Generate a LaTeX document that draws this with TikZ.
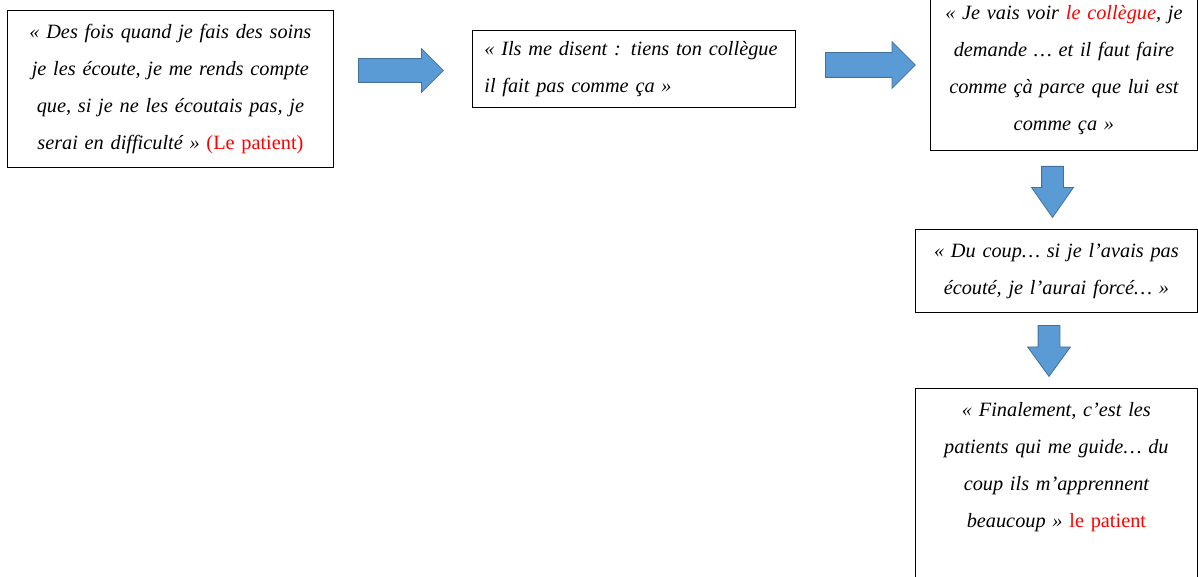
\documentclass[tikz,border=0pt]{standalone}
\usepackage{fontspec}
\setmainfont{Liberation Serif}
\usetikzlibrary{shapes.arrows}

\definecolor{arrowfill}{RGB}{91,155,213}
\definecolor{arrowline}{RGB}{65,113,156}
\definecolor{speaker}{RGB}{255,0,0}

\tikzset{
  quote/.style={draw, line width=0.8pt, align=center, inner sep=6pt,
    font=\fontsize{20.3}{37}\selectfont\itshape},
  bigarrow/.style={single arrow, draw=arrowline, fill=arrowfill, line width=0.8pt,
    inner sep=0pt, single arrow head indent=0pt, anchor=tail},
}

\begin{document}
\begin{tikzpicture}[x=1pt, y=-1pt]
  \useasboundingbox (0,0) rectangle (1198,577);
  % quotes, in reading order
  \node[quote, text width=314pt, minimum height=157pt, anchor=north west] (q1) at (7,10)
    {« Des fois quand je fais des soins\\ je les écoute, je me rends compte\\
     que, si je ne les écoutais pas, je\\ serai en difficulté » {\upshape\color{speaker}(Le patient)}};
  \node[quote, align=left, inner xsep=12pt, text width=299pt, minimum height=77pt, anchor=north west] (q2) at (472,30)
    {« Ils me disent : tiens ton collègue\\ il fait pas comme ça »};
  \node[quote, text width=255pt, minimum height=160pt, anchor=north west] (q3) at (930,-10)
    {« Je vais voir {\color{speaker}le collègue}, je\\ demande … et il faut faire\\
     comme çà parce que lui est\\ comme ça »};
  \node[quote, text width=270pt, minimum height=83pt, anchor=north west] (q4) at (915,229)
    {« Du coup… si je l’avais pas\\ écouté, je l’aurai forcé… »};
  \node[quote, text width=270pt, minimum height=265pt, anchor=north west] (q5) at (915,388)
    {« Finalement, c’est les\\ patients qui me guide… du\\ coup ils m’apprennent\\
     beaucoup » {\upshape\color{speaker}le patient}\\ \mbox{}\\ \mbox{}\\ \mbox{}};
  % block arrows between the quotes
  \node[bigarrow, minimum height=85pt, inner ysep=11.5pt, single arrow head extend=10pt] (a1) at (358,70.5) {};
  \node[bigarrow, minimum height=90pt, inner ysep=12pt, single arrow head extend=11pt] (a2) at (825,65) {};
  \node[bigarrow, rotate=-90, minimum height=51pt, inner ysep=10.5pt, single arrow head extend=10pt,
    single arrow tip angle=70] (a3) at (1052.5,166) {};
  \node[bigarrow, rotate=-90, minimum height=51pt, inner ysep=10.5pt, single arrow head extend=10.5pt,
    single arrow tip angle=72] (a4) at (1049,325) {};
\end{tikzpicture}
\end{document}
